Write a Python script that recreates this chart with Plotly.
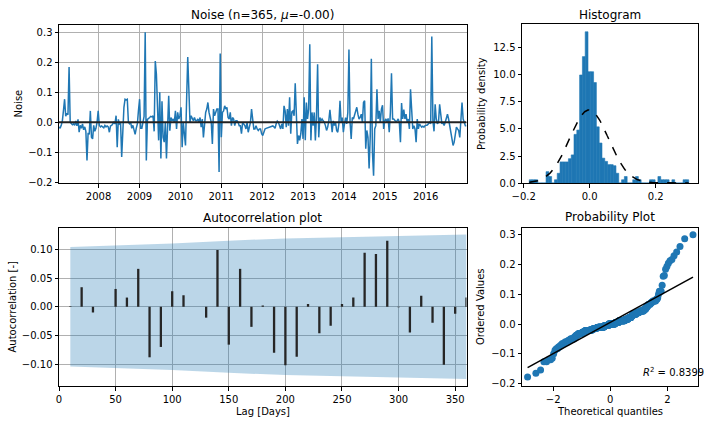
import numpy as np
import pandas as pd
import plotly.graph_objects as go
from statistics import NormalDist

# ---------------- data ----------------
noise = [
    -0.015, -0.02, -0.01, 0.005, 0.04, 0.077, 0.02, 0.03, 0.025, 0.184,
    0.0, -0.005, -0.008, -0.005, -0.01, 0.005, -0.012, 0.01, -0.033, -0.01,
    -0.02, -0.005, -0.025, -0.015, -0.03, -0.127, -0.035, -0.04, 0.038, -0.05,
    -0.055, -0.01, -0.03, -0.02, 0.0, 0.038, -0.01, -0.015, -0.012, -0.015,
    -0.018, -0.01, -0.015, -0.012, -0.015, -0.033, -0.012, -0.01, -0.005, 0.0,
    -0.005, 0.022, -0.083, 0.01, -0.005, -0.002, -0.115, -0.01, 0.05, 0.077,
    0.075, 0.077, 0.0, -0.005, 0.0, -0.02, -0.01, -0.025, -0.04, -0.02,
    -0.005, 0.04, 0.077, -0.02, -0.02, 0.0, 0.02, 0.30, -0.127, 0.01,
    0.015, 0.016, 0.02, 0.018, 0.022, -0.03, 0.204, 0.16, 0.05, -0.06,
    0.10, -0.12, 0.07, -0.05,
    -0.066, 0.0, -0.12, -0.02, 0.088, -0.028,
    0.016, 0.005, 0.011, 0.0, 0.038, -0.022, 0.033, 0.011, 0.022, 0.05,
    -0.083, 0.0, -0.044, -0.077, 0.077, 0.217, 0.11, 0.0, 0.022, 0.011,
    0.005, 0.016, 0.005, 0.005, 0.011, 0.0, 0.016, -0.016, 0.011, -0.05,
    0.011, 0.033, 0.044, 0.066, 0.033, 0.011, 0.0, -0.072, 0.044, 0.022,
    0.033, 0.044, 0.044, -0.165, 0.229, -0.05, 0.033, 0.038, 0.055, 0.044,
    0.05, 0.016, 0.011, 0.033, -0.011, 0.016, 0.011, -0.011, 0.005, 0.005,
    0.0, -0.011, -0.011, -0.038, 0.0, -0.005, -0.011, -0.022, 0.0, -0.033,
    -0.011, 0.0, 0.044, 0.0, -0.022, -0.022, -0.011, -0.022, -0.027, -0.022,
    -0.022, -0.038, -0.044, -0.033, -0.022,
    -0.02, -0.019, -0.018, -0.015, -0.014, -0.013, -0.012, -0.015, -0.02, -0.005,
    0.004, 0.0, -0.013, -0.022, -0.005, -0.022, 0.055, 0.038, -0.016, 0.044,
    -0.011, 0.083, -0.038, 0.035, 0.038, 0.022, 0.13, 0.038, -0.072, -0.044,
    -0.06, -0.038, 0.011, -0.055, 0.083, -0.06, 0.066, 0.011, 0.044, 0.26,
    -0.06, 0.033, -0.011, 0.033, -0.06, 0.022, 0.193, -0.05, 0.016, 0.005,
    0.011, 0.005, 0.0, -0.011, -0.027, -0.016, 0.005, 0.042, 0.0, -0.033,
    0.005, -0.011, 0.0, -0.027, -0.033, -0.005, 0.072, 0.0, 0.016, -0.033,
    -0.005, 0.016, -0.005, 0.033, 0.242, 0.0, -0.055, 0.016, 0.011, 0.022,
    0.033, 0.05, 0.027, 0.011, 0.016, 0.027, 0.0, 0.066, 0.072, -0.088,
    -0.027, -0.05, -0.154, -0.05, 0.212, -0.1, -0.178, -0.022, -0.011, 0.11,
    0.011, 0.038, 0.0, 0.044, 0.057, -0.022, 0.005, 0.011, 0.0, 0.013,
    -0.033, 0.033, 0.163, 0.011, 0.011, 0.005, 0.002, 0.005, 0.011, 0.0,
    -0.066, 0.064, 0.011, 0.042, 0.011, 0.027, 0.0, 0.011, -0.022, 0.11,
    0.044, -0.022, -0.011, -0.022, -0.066, 0.011, -0.022, -0.005, -0.011, -0.016,
    -0.013, -0.016, -0.011, -0.011, -0.009, -0.005, 0.0, -0.005, 0.286, 0.005,
    -0.03, 0.06, 0.011, -0.005, 0.0, 0.06, 0.033, -0.005, 0.0, -0.011,
    0.0, 0.016, 0.027, 0.011, -0.011, -0.027, -0.055, -0.077, -0.066, -0.033,
    -0.016, -0.022, -0.027, -0.05, 0.02, 0.066, 0.011, -0.005, -0.011, -0.011,
]
start_date = "2007-01-13"
step_days = 10
year_ticks = [2008, 2009, 2010, 2011, 2012, 2013, 2014, 2015, 2016]

hist_start = -0.183
hist_width = 0.00847
hist_density = [
    0.3, 0.3, 0.3, 0.0, 0.0, 0.0, 1.05, 0.6, 0.0, 0.3,
    0.9, 1.95, 1.95, 1.95, 2.25, 2.6, 4.5, 4.9, 10.0, 11.7,
    14.0, 10.3, 10.3, 9.3, 5.2, 3.7, 2.3, 2.0, 1.7, 1.7,
    1.6, 0.9, 0.0, 0.3, 0.6, 0.0, 0.0, 0.3, 0.6, 0.3,
    0.0, 0.0, 0.0, 0.3, 0.3, 0.0, 0.6, 0.3, 0.3, 0.3,
    0.0, 0.3, 0.0, 0.0, 0.0, 0.3, 0.3,
]
norm_mu = -0.002
norm_sigma = 0.059

acf_lags = [10, 20, 30, 40, 50, 60, 70, 80, 90, 100, 110, 120,
            130, 140, 150, 160, 170, 180, 190, 200, 210, 220, 230, 240,
            250, 260, 270, 280, 290, 300, 310, 320, 330, 340, 350, 360]
acf_vals = [0.001, 0.034, -0.010, 0.0, 0.031, 0.016, 0.066, -0.088, -0.070, 0.027, 0.020, 0.0,
            -0.019, 0.099, -0.066, 0.066, -0.035, 0.002, -0.080, -0.102, -0.087, 0.005, -0.046, -0.033,
            0.005, 0.016, 0.094, 0.092, 0.115, -0.001, -0.045, 0.019, -0.028, -0.101, -0.012, 0.016]
band_lags = [10, 100, 150, 200, 250, 300, 360]
band_upper = [0.104, 0.110, 0.115, 0.119, 0.121, 0.123, 0.1256]
r2_value = "0.8399"

# ---------------- helpers ----------------
W, H = 709, 424
FONT = "DejaVu Sans"
C0 = "#1f77b4"


def px(x):
    return x / W


def py(y):
    return 1 - y / H


dates = pd.date_range(start_date, periods=len(noise), freq=f"{step_days}D")

fig = go.Figure()

# 1) noise time series
fig.add_trace(go.Scatter(x=dates, y=noise, mode="lines",
                         line=dict(color=C0, width=1.5),
                         xaxis="x", yaxis="y", hoverinfo="skip"))
fig.add_trace(go.Scatter(x=[dates[0], dates[-1]], y=[0, 0], mode="lines",
                         line=dict(color="#222222", width=2),
                         xaxis="x", yaxis="y", hoverinfo="skip"))

# 2) histogram
edges = hist_start + hist_width * np.arange(len(hist_density) + 1)
centers = (edges[:-1] + edges[1:]) / 2
fig.add_trace(go.Bar(x=centers, y=hist_density, width=hist_width,
                     marker=dict(color=C0, line=dict(width=0.6, color=C0)),
                     xaxis="x2", yaxis="y2", hoverinfo="skip"))
xs = np.linspace(edges[0], edges[-1], 300)
pdf = [NormalDist(norm_mu, norm_sigma).pdf(v) for v in xs]
fig.add_trace(go.Scatter(x=xs, y=pdf, mode="lines",
                         line=dict(color="black", width=1.5, dash="dash"),
                         xaxis="x2", yaxis="y2", hoverinfo="skip"))

# 3) autocorrelation
bl = list(band_lags)
bu = list(band_upper)
fig.add_trace(go.Scatter(x=bl + bl[::-1], y=bu + [-v for v in bu[::-1]],
                         mode="lines", fill="toself",
                         fillcolor="rgba(31,119,180,0.3)",
                         line=dict(width=0, color="rgba(0,0,0,0)"),
                         xaxis="x3", yaxis="y3", hoverinfo="skip"))
bx, by = [], []
for lag, v in zip(acf_lags, acf_vals):
    bx += [lag, lag, None]
    by += [0, v, None]
fig.add_trace(go.Scatter(x=bx, y=by, mode="lines",
                         line=dict(color="#262626", width=2.3),
                         xaxis="x3", yaxis="y3", hoverinfo="skip"))

# 4) probability plot
n = len(noise)
m = np.empty(n)
m[-1] = 0.5 ** (1.0 / n)
m[0] = 1 - m[-1]
ii = np.arange(2, n)
m[1:-1] = (ii - 0.3175) / (n + 0.365)
osm = np.array([NormalDist().inv_cdf(p) for p in m])
osr = np.sort(np.array(noise))
slope, intercept = np.polyfit(osm, osr, 1)
fig.add_trace(go.Scatter(x=osm, y=osr, mode="markers",
                         marker=dict(color=C0, size=7, line=dict(width=0)),
                         xaxis="x4", yaxis="y4", hoverinfo="skip"))
lx = np.array([osm.min(), osm.max()])
fig.add_trace(go.Scatter(x=lx, y=slope * lx + intercept, mode="lines",
                         line=dict(color="black", width=1.5),
                         xaxis="x4", yaxis="y4", hoverinfo="skip"))


def axis(domain, rng, anchor, grid=False, **kw):
    d = dict(domain=domain, range=rng, anchor=anchor, automargin=False,
             showline=True, mirror=True, linecolor="black", linewidth=1,
             ticks="outside", ticklen=3.5, tickwidth=0.8, tickcolor="black",
             tickfont=dict(family=FONT, size=10, color="black"),
             zeroline=False, showgrid=grid, gridcolor="#b0b0b0", gridwidth=0.8,
             fixedrange=True)
    d.update(kw)
    return d


L1, R1 = px(59), px(466.5)
L2, R2 = px(522), px(698)
T1, B1 = py(25), py(183)
T2, B2 = py(24), py(183)
T3, B3 = py(227.5), py(386)

fig.update_layout(
    template="none",
    width=W, height=H, autosize=False,
    margin=dict(l=0, r=0, t=0, b=0, pad=0, autoexpand=False),
    paper_bgcolor="white", plot_bgcolor="white",
    showlegend=False,
    font=dict(family=FONT, size=10, color="black"),
    xaxis=axis([L1, R1], [dates[0], dates[-1]], "y", grid=True, type="date",
               tickmode="array",
               tickvals=[f"{y}-01-01" for y in year_ticks],
               ticktext=[str(y) for y in year_ticks]),
    yaxis=axis([B1, T1], [-0.202, 0.324], "x", grid=True,
               tickmode="array", tickvals=[-0.2, -0.1, 0.0, 0.1, 0.2, 0.3],
               tickformat=".1f"),
    xaxis2=axis([L2, R2], [-0.205, 0.328], "y2",
                tickmode="array", tickvals=[-0.2, 0.0, 0.2], tickformat=".1f"),
    yaxis2=axis([B2, T2], [0, 14.72], "x2",
                tickmode="array", tickvals=[0, 2.5, 5, 7.5, 10, 12.5],
                tickformat=".1f"),
    xaxis3=axis([L1, R1], [0, 360], "y3", grid=True,
                tickmode="array", tickvals=[0, 50, 100, 150, 200, 250, 300, 350]),
    yaxis3=axis([B3, T3], [-0.138, 0.138], "x3", grid=True,
                tickmode="array", tickvals=[-0.1, -0.05, 0.0, 0.05, 0.1],
                tickformat=".2f"),
    xaxis4=axis([L2, R2], [-3.09, 3.07], "y4",
                tickmode="array", tickvals=[-2, 0, 2]),
    yaxis4=axis([B3, T3], [-0.208, 0.324], "x4",
                tickmode="array", tickvals=[-0.2, -0.1, 0.0, 0.1, 0.2, 0.3],
                tickformat=".1f"),
)


def label(text, x, y, size=10, angle=0, xanchor="center"):
    fig.add_annotation(text=text, x=px(x), y=py(y), xref="paper", yref="paper",
                       showarrow=False, textangle=angle, xanchor=xanchor,
                       yanchor="middle",
                       font=dict(family=FONT, size=size, color="black"))


# titles
label(f"Noise (n={n}, <i>μ</i>=-0.00)", 262.5, 15, size=12)
label("Histogram", 610, 15, size=12)
label("Autocorrelation plot", 262.5, 218, size=12)
label("Probability Plot", 610, 217, size=12)
# axis labels
label("Noise", 18.5, 104, angle=-90)
label("Probability density", 482, 104, angle=-90)
label("Autocorrelation [-]", 12, 306.5, angle=-90)
label("Ordered Values", 480.5, 306.5, angle=-90)
label("Lag [Days]", 262.5, 411.5)
label("Theoretical quantiles", 610, 411)
label(f"<i>R</i><sup>2</sup> = {r2_value}", 641, 372, xanchor="left")

fig.write_html("out.html", config={"displayModeBar": False},
               post_script="document.body.style.margin='0';document.body.style.overflow='hidden';")
